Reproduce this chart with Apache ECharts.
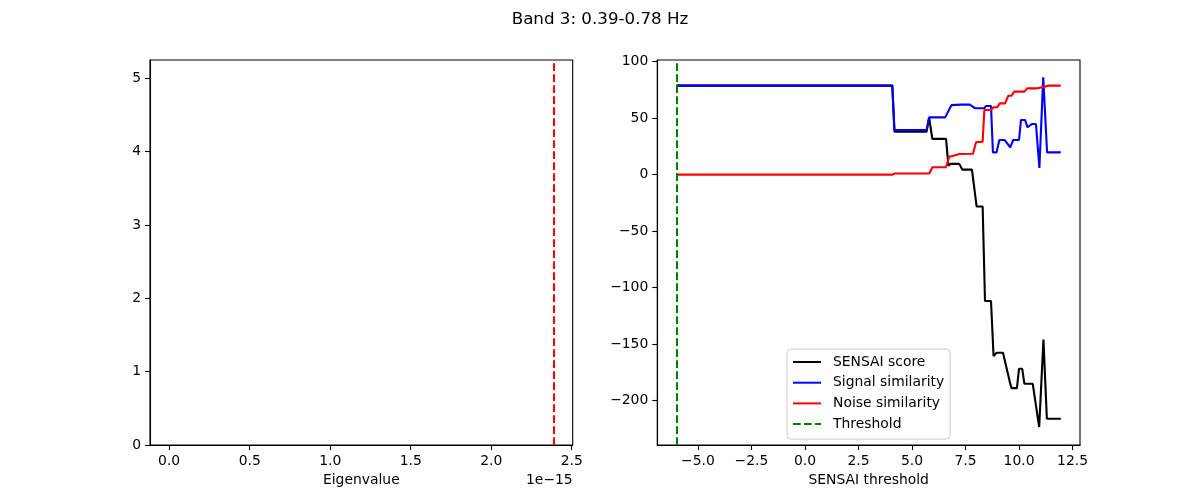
<!DOCTYPE html>
<html>
<head>
<meta charset="utf-8">
<script src="https://cdn.jsdelivr.net/npm/echarts@6/dist/echarts.min.js"></script>
<style>
  html, body { margin: 0; padding: 0; background: #fff; }
  #main { width: 1200px; height: 500px; }
</style>
</head>
<body>
<div id="main"></div>
<script>
const title = 'Band 3: 0.39-0.78 Hz';

// left panel: eigenvalues (units of 1e-15)
const eigTicks = [0, 0.5, 1, 1.5, 2, 2.5];
const countTicks = [0, 1, 2, 3, 4, 5];
const eigThreshold = 2.387;

// right panel: SENSAI threshold sweep
const sensaiTicksX = [-5, -2.5, 0, 2.5, 5, 7.5, 10, 12.5];
const sensaiTicksY = [-200, -150, -100, -50, 0, 50, 100];
const thresholdValue = -6.0;

const scoreX = [-6.0, 4.08, 4.18, 5.68, 5.80, 5.95, 6.59, 6.70, 6.80, 7.21, 7.35, 7.80, 8.02, 8.30, 8.41, 8.69,
  8.81, 8.95, 9.25, 9.57, 9.65, 9.90, 10.0, 10.15, 10.25, 10.64, 10.94, 11.14, 11.22, 11.30, 11.95];
const scoreY = [78.8, 78.8, 38.0, 38.0, 50.5, 31.6, 31.6, 8.0, 9.5, 9.5, 4.4, 4.4, -28.3, -28.3, -112, -112,
  -160.8, -157.8, -157.8, -183.8, -189.1, -189.1, -172, -172, -185.3, -185.3, -223.6, -146, -146, -216.2, -216.2];

const signalX = [-6.0, 4.08, 4.18, 5.68, 5.80, 6.55, 6.84, 7.30, 7.70, 7.75, 7.82, 7.95, 8.38, 8.45, 8.69, 8.78,
  8.95, 9.08, 9.32, 9.59, 9.73, 10.0, 10.09, 10.28, 10.40, 10.60, 10.79, 10.95, 11.13, 11.22, 11.31, 11.95];
const signalY = [78.8, 78.8, 39.5, 39.5, 50.7, 50.7, 61.5, 62.0, 62.0, 62.8, 60.5, 58.7, 58.7, 60.8, 60.8, 19.7,
  19.7, 30.7, 30.7, 24.2, 30.7, 30.7, 48.4, 48.4, 41.9, 44.8, 44.8, 5.9, 86.1, 86.1, 19.7, 19.7];

const noiseX = [-6.0, 4.08, 4.20, 5.81, 5.95, 6.59, 6.74, 6.90, 7.21, 7.85, 7.99, 8.30, 8.38, 8.69, 8.80, 8.98,
  9.10, 9.35, 9.50, 9.65, 9.78, 10.25, 10.38, 10.85, 11.20, 11.35, 11.95];
const noiseY = [0, 0, 1.0, 1.0, 6.5, 6.5, 15.9, 16.5, 18.3, 18.5, 28.6, 29.2, 57.2, 57.2, 59.6, 59.6,
  63.1, 63.1, 69.9, 69.9, 73.5, 73.5, 76.4, 76.4, 77.9, 78.8, 78.8];

const zip = (xs, ys) => xs.map((x, i) => [x, ys[i]]);
const fmt = (v) => (v < 0 ? '\u2212' : '') + Math.abs(v).toFixed(1);
const fmtInt = (v) => (v < 0 ? '\u2212' : '') + Math.abs(v);

const font = 'DejaVu Sans';
const txt = { color: '#000', fontFamily: font, fontSize: 13.9 };

const axisCommon = {
  axisLine: { show: true, onZero: false, lineStyle: { color: '#000', width: 1.1 } },
  axisTick: { show: true, length: 5, lineStyle: { color: '#000', width: 1.1 } },
  splitLine: { show: false },
  axisLabel: Object.assign({ margin: 9 }, txt),
  nameTextStyle: txt
};

const myChart = echarts.init(document.getElementById('main'));

const option = {
  animation: false,
  backgroundColor: '#fff',
  title: {
    text: title,
    left: 'center',
    top: 6,
    textStyle: { color: '#000', fontFamily: font, fontSize: 16.7, fontWeight: 'normal' }
  },
  grid: [
    { left: 150, top: 60, width: 422.7, height: 385, show: true, borderColor: '#000', borderWidth: 1.1, backgroundColor: 'transparent' },
    { left: 657.3, top: 60, width: 422.7, height: 385, show: true, borderColor: '#000', borderWidth: 1.1, backgroundColor: 'transparent' }
  ],
  xAxis: [
    Object.assign({}, axisCommon, {
      gridIndex: 0, type: 'value', min: -0.119, max: 2.506,
      name: 'Eigenvalue', nameLocation: 'middle', nameGap: 28,
      axisTick: Object.assign({}, axisCommon.axisTick, { customValues: eigTicks }),
      axisLabel: Object.assign({}, axisCommon.axisLabel, { customValues: eigTicks, formatter: fmt })
    }),
    Object.assign({}, axisCommon, {
      gridIndex: 1, type: 'value', min: -6.8975, max: 12.8475,
      name: 'SENSAI threshold', nameLocation: 'middle', nameGap: 28,
      axisTick: Object.assign({}, axisCommon.axisTick, { customValues: sensaiTicksX }),
      axisLabel: Object.assign({}, axisCommon.axisLabel, { customValues: sensaiTicksX, formatter: fmt })
    })
  ],
  yAxis: [
    Object.assign({}, axisCommon, {
      gridIndex: 0, type: 'value', min: 0, max: 5.25,
      axisTick: Object.assign({}, axisCommon.axisTick, { customValues: countTicks }),
      axisLabel: Object.assign({}, axisCommon.axisLabel, { customValues: countTicks, formatter: fmtInt })
    }),
    Object.assign({}, axisCommon, {
      gridIndex: 1, type: 'value', min: -239.5, max: 101.5,
      axisTick: Object.assign({}, axisCommon.axisTick, { customValues: sensaiTicksY }),
      axisLabel: Object.assign({}, axisCommon.axisLabel, { customValues: sensaiTicksY, formatter: fmtInt })
    })
  ],
  legend: {
    orient: 'vertical',
    left: 787,
    top: 349,
    padding: [6, 6, 8, 5],
    itemWidth: 28,
    itemHeight: 14,
    itemGap: 6.7,
    itemStyle: { opacity: 0 },
    backgroundColor: 'rgba(255,255,255,0.8)',
    borderColor: '#cccccc',
    borderWidth: 1,
    borderRadius: 4,
    textStyle: Object.assign({ lineHeight: 14, padding: [0, 0, 0, 7] }, txt),
    data: ['SENSAI score', 'Signal similarity', 'Noise similarity', 'Threshold']
  },
  graphic: [
    {
      type: 'text', right: 1200 - 572.7, top: 473,
      style: { text: '1e\u221215', fill: '#000', font: '13.9px "DejaVu Sans"' }
    }
  ],
  series: [
    {
      name: 'eigen threshold', type: 'line', xAxisIndex: 0, yAxisIndex: 0, data: [],
      markLine: {
        silent: true, symbol: 'none', animation: false,
        label: { show: false },
        lineStyle: { color: '#ff0000', width: 2.1, type: [7.7, 3.3] },
        data: [{ xAxis: eigThreshold }]
      }
    },
    {
      name: 'SENSAI score', type: 'line', xAxisIndex: 1, yAxisIndex: 1,
      symbol: 'none', data: zip(scoreX, scoreY),
      lineStyle: { color: '#000000', width: 2.1 }, itemStyle: { color: '#000000' }
    },
    {
      name: 'Signal similarity', type: 'line', xAxisIndex: 1, yAxisIndex: 1,
      symbol: 'none', data: zip(signalX, signalY),
      lineStyle: { color: '#0000ff', width: 2.1 }, itemStyle: { color: '#0000ff' }
    },
    {
      name: 'Noise similarity', type: 'line', xAxisIndex: 1, yAxisIndex: 1,
      symbol: 'none', data: zip(noiseX, noiseY),
      lineStyle: { color: '#ff0000', width: 2.1 }, itemStyle: { color: '#ff0000' }
    },
    {
      name: 'Threshold', type: 'line', xAxisIndex: 1, yAxisIndex: 1,
      symbol: 'none', data: [],
      lineStyle: { color: '#008000', width: 2.1, type: [7.7, 3.3] }, itemStyle: { color: '#008000' },
      markLine: {
        silent: true, symbol: 'none', animation: false,
        label: { show: false },
        lineStyle: { color: '#008000', width: 2.1, type: [7.7, 3.3] },
        data: [{ xAxis: thresholdValue }]
      }
    }
  ]
};

myChart.setOption(option);
</script>
</body>
</html>
